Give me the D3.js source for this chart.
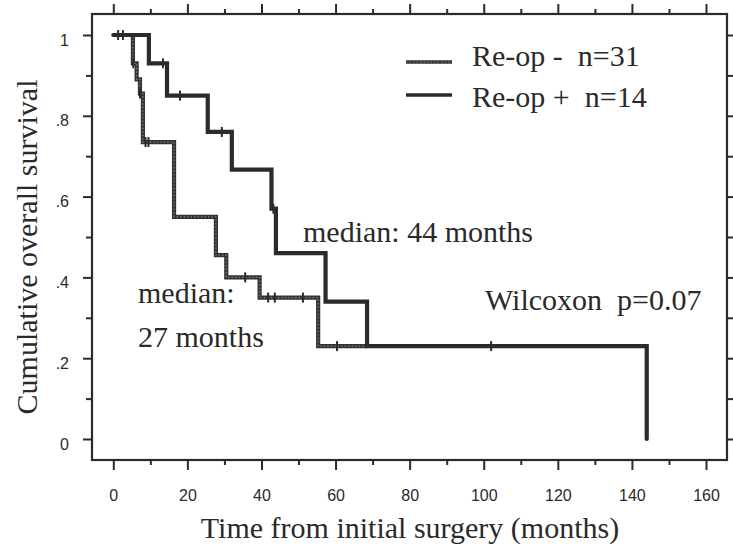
<!DOCTYPE html>
<html><head><meta charset="utf-8">
<script src="https://cdn.jsdelivr.net/npm/d3@7"></script>
<style>
html,body{margin:0;padding:0;background:#fff;}
svg{display:block;}
</style></head>
<body>
<div id="chart"></div>
<script>
// ---- data ----
const xTicks = [0,10,20,30,40,50,60,70,80,90,100,110,120,130,140,150,160];
const xTickLabels = ["0","","20","","40","","60","","80","","100","","120","","140","","160"];
const yTicks = [0,0.1,0.2,0.3,0.4,0.5,0.6,0.7,0.8,0.9,1];
const yTickLabels = ["0","",".2","",".4","",".6","",".8","","1"];

const negName = "Re-op -  n=31";
const negTimes = [0, 5.3, 6.3, 7.2, 8.0, 16.4, 27.7, 30.5, 39.5, 55.3];
const negSurv  = [1.0, 0.93, 0.89, 0.855, 0.735, 0.55, 0.455, 0.40, 0.35, 0.23];
const negEnd = 68.5;
const negCensor = [1.3, 2.6, 5.4, 7.2, 8.7, 9.5, 35.6, 41.8, 43.6, 51.2, 60.4];

const posName = "Re-op +  n=14";
const posTimes = [0, 9.6, 14.5, 25.5, 32, 42.7, 43.9, 57.3, 68.5, 144];
const posSurv  = [1.0, 0.93, 0.85, 0.76, 0.667, 0.57, 0.46, 0.34, 0.23, 0.0];
const posEnd = 144;
const posCensor = [13.4, 18, 29.3, 43.2, 102];

const xTitle = "Time from initial surgery (months)";
const yTitle = "Cumulative overall survival";
const notes = ["median: 44 months", "median:", "27 months", "Wilcoxon  p=0.07"];

// ---- drawing ----
const W = 733, H = 549;
const svg = d3.select("#chart").append("svg").attr("width", W).attr("height", H);
const x = d3.scaleLinear().domain([0,160]).range([113.3, 706]);
const y = d3.scaleLinear().domain([0,1]).range([439, 35]);
const frame = {l:92, r:727, t:14, b:460};
const ink = "#2b2b2b";
const serif = "'Liberation Serif','Times New Roman',serif";
const sans = "'Liberation Sans',Arial,sans-serif";

// frame
svg.append("rect").attr("x",frame.l).attr("y",frame.t)
  .attr("width",frame.r-frame.l).attr("height",frame.b-frame.t)
  .attr("fill","none").attr("stroke",ink).attr("stroke-width",2.2);

function styleAxis(g){
  g.select(".domain").remove();
  g.selectAll(".tick line").attr("stroke",ink).attr("stroke-width",2);
}
const isMajorX = d => d % 20 === 0;
// bottom axis
const gB = svg.append("g").attr("transform",`translate(0,${frame.b})`)
  .call(d3.axisBottom(x).tickValues(xTicks).tickSize(10)
    .tickFormat((d,i)=>xTickLabels[i]));
styleAxis(gB);
gB.selectAll(".tick line").attr("y2", d => isMajorX(d) ? 10 : 5);
gB.selectAll(".tick text").attr("y", 29.6).attr("font-family",sans)
  .attr("font-size",16).attr("fill","#2a2a2a");
// top axis
const gT = svg.append("g").attr("transform",`translate(0,${frame.t})`)
  .call(d3.axisTop(x).tickValues(xTicks).tickSize(10).tickFormat(""));
styleAxis(gT);
gT.selectAll(".tick line").attr("y2", d => isMajorX(d) ? -10 : -5);
// left axis
const isMajorY = (d,i) => i % 2 === 0;
const gL = svg.append("g").attr("transform",`translate(${frame.l},0)`)
  .call(d3.axisLeft(y).tickValues(yTicks).tickSize(9)
    .tickFormat((d,i)=>yTickLabels[i]));
styleAxis(gL);
gL.selectAll(".tick line").attr("x2", (d,i) => isMajorY(d,i) ? -9 : -6);
gL.selectAll(".tick text").attr("x",-23).attr("y",5).attr("font-family",sans)
  .attr("font-size",16).attr("fill","#2a2a2a");
// right axis
const gR = svg.append("g").attr("transform",`translate(${frame.r},0)`)
  .call(d3.axisRight(y).tickValues(yTicks).tickSize(6).tickFormat(""));
styleAxis(gR);

// curves
const line = d3.line().x(d=>x(d[0])).y(d=>y(d[1])).curve(d3.curveStepAfter);
function pts(times, surv, end){
  const p = times.map((t,i)=>[t, surv[i]]);
  if (end > times[times.length-1]) p.push([end, surv[surv.length-1]]);
  return p;
}
function survAt(times, surv, t){
  let s = surv[0];
  for (let i=0;i<times.length;i++) if (times[i] <= t) s = surv[i];
  return s;
}
// Re-op - (hatched)
const negPts = pts(negTimes, negSurv, negEnd);
svg.append("path").attr("d", line(negPts)).attr("fill","none")
  .attr("stroke","#333").attr("stroke-width",4.2);
svg.append("path").attr("d", line(negPts)).attr("fill","none")
  .attr("stroke","#808080").attr("stroke-width",1.2).attr("stroke-dasharray","1.5,2");
svg.append("g").selectAll("line").data(negCensor).join("line")
  .attr("x1",d=>x(d)).attr("x2",d=>x(d))
  .attr("y1",d=>y(survAt(negTimes,negSurv,d))-5)
  .attr("y2",d=>y(survAt(negTimes,negSurv,d))+5)
  .attr("stroke",ink).attr("stroke-width",2);

// Re-op + (solid)
const posPts = pts(posTimes, posSurv, posEnd);
svg.append("path").attr("d", line(posPts)).attr("fill","none")
  .attr("stroke",ink).attr("stroke-width",4.2).attr("stroke-linecap","round");
svg.append("g").selectAll("line").data(posCensor).join("line")
  .attr("x1",d=>x(d)).attr("x2",d=>x(d))
  .attr("y1",d=>y(survAt(posTimes,posSurv,d))-5)
  .attr("y2",d=>y(survAt(posTimes,posSurv,d))+5)
  .attr("stroke",ink).attr("stroke-width",2);

// legend
svg.append("line").attr("x1",406).attr("x2",452).attr("y1",62).attr("y2",62)
  .attr("stroke","#333").attr("stroke-width",3.6);
svg.append("line").attr("x1",406).attr("x2",452).attr("y1",62).attr("y2",62)
  .attr("stroke","#808080").attr("stroke-width",1.1).attr("stroke-dasharray","1.5,2");
svg.append("line").attr("x1",406).attr("x2",452).attr("y1",95).attr("y2",95)
  .attr("stroke",ink).attr("stroke-width",3.6);
function txt(s, xx, yy, size, fam, anchor){
  return svg.append("text").attr("x",xx).attr("y",yy).attr("font-size",size)
    .attr("font-family",fam).attr("fill","#2a2a2a")
    .attr("text-anchor",anchor||"start").style("white-space","pre").text(s);
}
txt(negName, 472, 66, 30, serif);
txt(posName, 472, 107, 30, serif);
txt(notes[0], 303, 242, 30, serif);
txt(notes[1], 138, 303, 30, serif);
txt(notes[2], 138, 347, 30, serif);
txt(notes[3], 485, 310, 30, serif);

// axis titles
txt(xTitle, 410, 538, 30, serif, "middle");
svg.append("text").attr("transform","translate(37,247) rotate(-90)")
  .attr("text-anchor","middle").attr("font-size",30).attr("font-family",serif)
  .attr("fill","#2a2a2a").text(yTitle);
</script>
</body></html>
